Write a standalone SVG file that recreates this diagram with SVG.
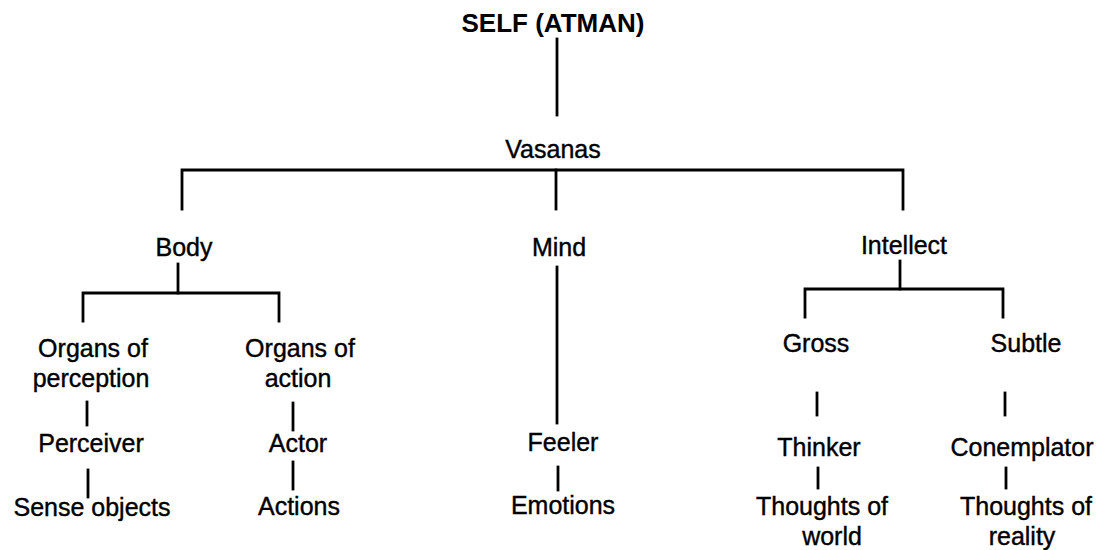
<svg xmlns="http://www.w3.org/2000/svg" width="1111" height="550" viewBox="0 0 1111 550">
<style>
  .t { font-family: "Liberation Sans", Arial, sans-serif; font-size: 25px; fill: #000; text-anchor: middle; stroke: #000; stroke-width: 0.4px; }
  .title { font-family: "Liberation Sans", Arial, sans-serif; font-size: 26px; font-weight: bold; fill: #000; text-anchor: middle; }
  .c { stroke: #000; stroke-width: 2.8; fill: none; stroke-linecap: square; }
</style>
<rect x="0" y="0" width="1111" height="550" fill="#fff"/>
<g id="connectors" class="c">
  <path d="M557 39 V115"/>
  <path d="M182 209 V170 H903 V209"/>
  <path d="M556 170 V209"/>
  <path d="M178 264 V293"/>
  <path d="M83 321 V293 H279 V321"/>
  <path d="M557 267 V423"/>
  <path d="M900 261 V289"/>
  <path d="M805 317 V289 H1003 V317"/>
  <path d="M87 402 V425"/>
  <path d="M88 470 V497"/>
  <path d="M293 403 V430"/>
  <path d="M293 462 V489"/>
  <path d="M558 467 V490"/>
  <path d="M817 393 V415"/>
  <path d="M1005 393 V415"/>
  <path d="M818 468 V488"/>
  <path d="M1006 468 V488"/>
</g>
<g id="self"><text class="title" x="553" y="32">SELF (ATMAN)</text></g>
<g id="vasanas"><text class="t" x="553" y="158">Vasanas</text></g>
<g id="body"><text class="t" x="184" y="256">Body</text></g>
<g id="mind"><text class="t" x="559" y="256">Mind</text></g>
<g id="intellect"><text class="t" x="904" y="254">Intellect</text></g>
<g id="organs-perception"><text class="t" x="93" y="357">Organs of</text><text class="t" x="91" y="387">perception</text></g>
<g id="organs-action"><text class="t" x="300" y="357">Organs of</text><text class="t" x="298" y="387">action</text></g>
<g id="perceiver"><text class="t" x="91" y="452">Perceiver</text></g>
<g id="sense-objects"><text class="t" x="92" y="516">Sense objects</text></g>
<g id="actor"><text class="t" x="298" y="452">Actor</text></g>
<g id="actions"><text class="t" x="299" y="515">Actions</text></g>
<g id="feeler"><text class="t" x="563" y="451">Feeler</text></g>
<g id="emotions"><text class="t" x="563" y="514">Emotions</text></g>
<g id="gross"><text class="t" x="816" y="352">Gross</text></g>
<g id="subtle"><text class="t" x="1026" y="352">Subtle</text></g>
<g id="thinker"><text class="t" x="819" y="456">Thinker</text></g>
<g id="conemplator"><text class="t" x="1022" y="456">Conemplator</text></g>
<g id="thoughts-world"><text class="t" x="822" y="515">Thoughts of</text><text class="t" x="832" y="545">world</text></g>
<g id="thoughts-reality"><text class="t" x="1026" y="515">Thoughts of</text><text class="t" x="1022" y="545">reality</text></g>
</svg>
